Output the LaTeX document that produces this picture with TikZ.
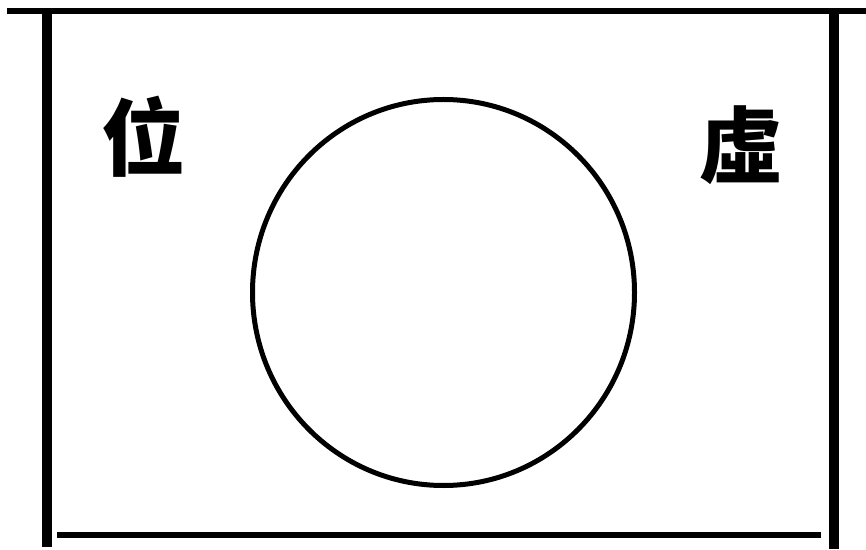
\documentclass[tikz,border=0pt]{standalone}
\usepackage{fontspec}
\usetikzlibrary{shapes.geometric}
\newfontfamily\cjk{Noto Sans CJK TC}
\tikzset{frameline/.style={line width=6pt,black},
  sideline/.style={line width=10pt,black},
  glyph/.style={font=\cjk\bfseries\fontsize{84pt}{84pt}\selectfont,inner sep=0pt}}
\begin{document}
\begin{tikzpicture}[x=1pt,y=1pt]
\useasboundingbox (0,0) rectangle (866,549);
\coordinate (tl) at (7,538);
\coordinate (tr) at (866,538);
\coordinate (lt) at (47,538);
\coordinate (lb) at (47,2);
\coordinate (rt) at (834,538);
\coordinate (rb) at (834,0);
\coordinate (bl) at (57,14);
\coordinate (br) at (821,14);
\draw[frameline] (tl) -- (tr);
\draw[sideline] (lt) -- (lb);
\draw[sideline] (rt) -- (rb);
\draw[frameline] (bl) -- (br);
\node[draw,line width=5pt,ellipse,minimum width=382pt,minimum height=386pt,inner sep=0pt] (c) at (443.5,256.5) {};
\node[glyph] (wei) at (143,412) {位};
\node[glyph] (xu) at (740,404) {虛};
\end{tikzpicture}
\end{document}
